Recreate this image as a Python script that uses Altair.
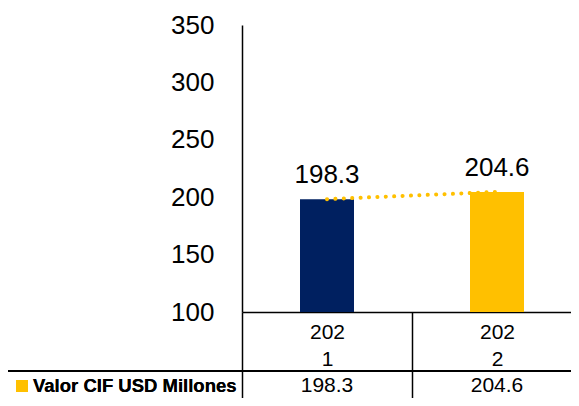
import altair as alt
import pandas as pd

years = ["2021", "2022"]
values = [198.3, 204.6]
bar_colors = ["#002060", "#FFC000"]
series_name = "Valor CIF USD Millones"
y_ticks = [100, 150, 200, 250, 300, 350]

df = pd.DataFrame({"year": years, "value": values, "color": bar_colors})

REG = "Liberation Sans, Arial, sans-serif"

x_enc = alt.X(
    "year:N",
    scale=alt.Scale(range=[0, 340], paddingInner=0, paddingOuter=0),
    axis=alt.Axis(
        title=None, tickBand="extent", tickSize=120, tickColor="black", tickWidth=1.5,
        domainColor="black", domainWidth=1.5, labelAngle=0,
        labelExpr="[substring(datum.label,0,3), substring(datum.label,3)]",
        labelBaseline="top", labelLineHeight=27, labelPadding=-111,
        labelFont=REG, labelFontSize=21, labelColor="black",
    ),
)
y_scale = alt.Scale(domain=[100, 350], nice=False, zero=False)
y_enc = alt.Y(
    "value:Q",
    scale=y_scale,
    axis=alt.Axis(
        title=None, values=y_ticks, ticks=False, grid=False, domainColor="black",
        domainWidth=1.5, labelPadding=28, labelFont=REG, labelFontSize=26,
        labelColor="black", labelBaseline="middle",
    ),
)

base = alt.Chart(df)

bars = base.mark_bar(size=54).encode(
    x=x_enc, y=y_enc, y2=alt.datum(100),
    color=alt.Color("color:N", scale=None),
)
line = base.mark_line(strokeDash=[0.1, 8.3], strokeCap="round", strokeWidth=4, color="#FFC000").encode(
    x="year:N", y="value:Q"
)
labels = base.mark_text(baseline="alphabetic", dy=-16, font=REG, fontSize=26, color="black").encode(
    x="year:N", y="value:Q", text=alt.Text("value:Q", format=".1f")
)
row_line = base.mark_rule(color="black", strokeWidth=2).encode(
    x=alt.value(-235), x2=alt.value(340), y=alt.value(346)
)
left_line = base.mark_rule(color="black", strokeWidth=2).encode(
    x=alt.value(-235), y=alt.value(346), y2=alt.value(420)
)
legend_sq = base.mark_square(color="#FFC000", opacity=1, size=144).encode(
    x=alt.value(-220), y=alt.value(361)
)
legend_txt = base.mark_text(align="left", baseline="middle", font=REG, fontSize=18.5,
                            fontWeight="bold", color="black").encode(
    x=alt.value(-209), y=alt.value(361), text=alt.value(series_name)
)
row_vals = base.mark_text(baseline="middle", font=REG, fontSize=21, color="black").encode(
    x="year:N", y=alt.value(361), text=alt.Text("value:Q", format=".1f")
)

chart = alt.layer(bars, line, labels, row_line, left_line, legend_sq, legend_txt, row_vals).properties(
    width=329, height=287,
    autosize=alt.AutoSizeParams(type="none"),
    padding={"left": 234, "top": 17, "right": 0, "bottom": 86},
).configure_view(strokeWidth=0)

chart.save("out.html", embed_options={"renderer": "svg", "actions": False})
